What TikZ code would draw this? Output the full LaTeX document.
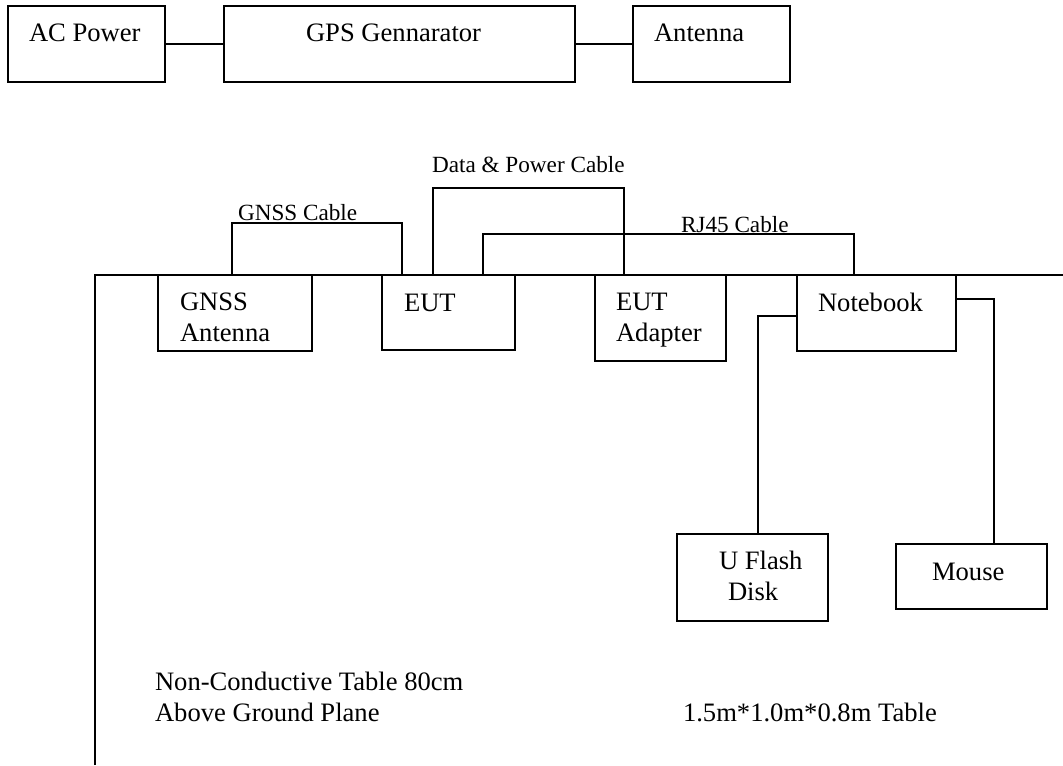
\documentclass[tikz,border=0pt]{standalone}
\usepackage{fontspec}
\setmainfont{Liberation Serif}
\usetikzlibrary{fit}
\begin{document}
\begin{tikzpicture}[x=0.5pt,y=-0.5pt,line width=1pt,
  box/.style={draw,inner sep=0pt},
  txt/.style={anchor=base west,inner sep=0pt,font=\fontsize{13.3}{16}\selectfont},
  lbl/.style={anchor=base west,inner sep=0pt,font=\fontsize{11.6}{14}\selectfont}]
\useasboundingbox (0,0) rectangle (1063,765);
% top row
\node[box,fit={(8,6)(165,82)}] (acp) {};
\node[box,fit={(224,6)(575,82)}] (gps) {};
\node[box,fit={(633,6)(790,82)}] (ant) {};
\node[txt] (tacp) at (28,42) {AC Power};
\node[txt] (tgps) at (305,42) {GPS Gennarator};
\node[txt] (tant) at (653,42) {Antenna};
\draw (acp.east) -- (gps.west);
\draw (gps.east) -- (ant.west);
% table
\coordinate (tbl) at (95,275);
\coordinate (tblb) at (95,765);
\coordinate (tblr) at (1063,275);
\draw (tblb) -- (tbl) -- (tblr);
% boxes
\node[box,fit={(158,275)(312,351)}] (gnss) {};
\node[box,fit={(382,275)(515,350)}] (eut) {};
\node[box,fit={(595,275)(726,361)}] (adp) {};
\node[box,fit={(797,275)(956,351)}] (nb) {};
\node[box,fit={(677,534)(828,621)}] (usb) {};
\node[box,fit={(896,544)(1047,609)}] (mouse) {};
\node[txt] (tgnss1) at (179,310) {GNSS};
\node[txt] (tgnss2) at (179,341) {Antenna};
\node[txt] (teut) at (403,311) {EUT};
\node[txt] (tadp1) at (615,310) {EUT};
\node[txt] (tadp2) at (615,341) {Adapter};
\node[txt] (tnb) at (817,311) {Notebook};
\node[txt] (tusb1) at (718,569) {U Flash};
\node[txt] (tusb2) at (727,600) {Disk};
\node[txt] (tmouse) at (931,580) {Mouse};
\node[txt] (tnc1) at (154,690) {Non-Conductive Table 80cm};
\node[txt] (tnc2) at (154,721) {Above Ground Plane};
\node[txt] (tsize) at (682,721) {1.5m*1.0m*0.8m Table};
% cables
\coordinate (g1) at (232,223);
\coordinate (g2) at (402,223);
\draw (gnss.north -| g1) -- (g1) -- (g2) -- (eut.north -| g2);
\node[lbl] (lgnss) at (237,220) {GNSS Cable};
\coordinate (d1) at (433,188);
\coordinate (d2) at (624,188);
\draw (eut.north -| d1) -- (d1) -- (d2) -- (adp.north -| d2);
\node[lbl] (ldp) at (431,172) {Data \& Power Cable};
\coordinate (r1) at (483,234);
\coordinate (r2) at (854,234);
\draw (eut.north -| r1) -- (r1) -- (r2) -- (nb.north -| r2);
\node[lbl] (lrj) at (680,232) {RJ45 Cable};
\coordinate (u1) at (758,316);
\draw (nb.west |- u1) -- (u1) -- (usb.north -| u1);
\coordinate (m1) at (994,299);
\draw (nb.east |- m1) -- (m1) -- (mouse.north -| m1);
\end{tikzpicture}
\end{document}
